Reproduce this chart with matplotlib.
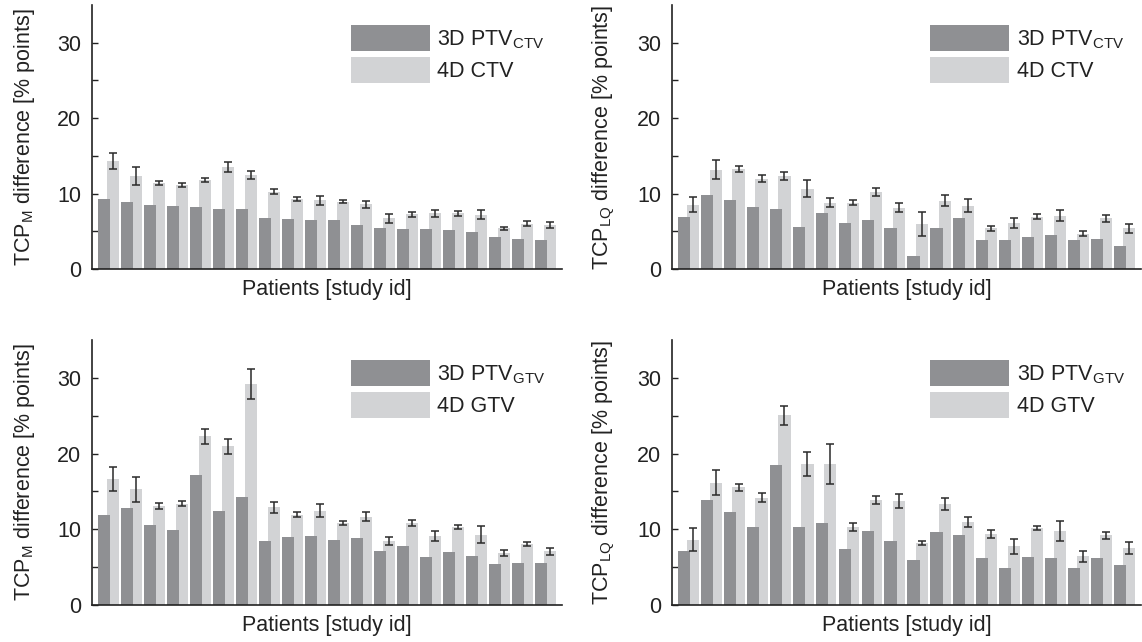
import matplotlib
matplotlib.use("Agg")
import matplotlib.pyplot as plt
import numpy as np

plt.rcParams['font.family'] = ['Liberation Sans', 'DejaVu Sans']
plt.rcParams['mathtext.default'] = 'regular'

patients = np.arange(20)

# Top-left: TCP_M, CTV
tl_3d = [9.34, 8.9, 8.46, 8.33, 8.19, 7.93, 7.89, 6.74, 6.61, 6.56,
         6.48, 5.81, 5.42, 5.33, 5.24, 5.15, 4.85, 4.23, 4.0, 3.79]
tl_4d = [14.3, 12.3, 11.37, 11.15, 11.8, 13.5, 12.47, 10.26, 9.25, 9.12,
         8.94, 8.59, 6.7, 7.27, 7.36, 7.4, 7.18, 5.37, 5.99, 5.81]
tl_err = [1.03, 1.2, 0.26, 0.26, 0.3, 0.66, 0.57, 0.3, 0.29, 0.62,
          0.22, 0.44, 0.57, 0.31, 0.42, 0.31, 0.6, 0.2, 0.31, 0.4]

# Top-right: TCP_LQ, CTV
tr_3d = [6.92, 9.87, 9.16, 8.28, 8.02, 5.55, 7.49, 6.08, 6.52, 5.42,
         1.67, 5.42, 6.74, 3.83, 3.88, 4.27, 4.45, 3.83, 4.0, 3.04]
tr_4d = [8.55, 13.17, 13.26, 11.94, 12.33, 10.66, 8.81, 8.77, 10.26, 8.15,
         5.99, 9.03, 8.41, 5.37, 6.12, 6.96, 7.09, 4.67, 6.7, 5.42]
tr_err = [1.0, 1.23, 0.42, 0.46, 0.48, 1.1, 0.57, 0.35, 0.53, 0.55,
          1.6, 0.73, 0.88, 0.35, 0.7, 0.31, 0.77, 0.31, 0.5, 0.6]

# Bottom-left: TCP_M, GTV
bl_3d = [11.86, 12.78, 10.58, 9.84, 17.13, 12.43, 14.27, 8.48, 8.96, 9.13,
         8.56, 8.87, 7.16, 7.82, 6.32, 6.94, 6.46, 5.36, 5.58, 5.53]
bl_4d = [16.6, 15.28, 13.09, 13.39, 22.27, 20.95, 29.16, 12.91, 11.95, 12.47,
         10.85, 11.68, 8.43, 10.85, 9.09, 10.28, 9.31, 6.81, 8.04, 7.07]
bl_err = [1.58, 1.69, 0.37, 0.37, 0.97, 1.0, 1.98, 0.75, 0.37, 0.81,
          0.24, 0.61, 0.53, 0.42, 0.68, 0.24, 1.16, 0.4, 0.31, 0.42]

# Bottom-right: TCP_LQ, GTV
br_3d = [7.16, 13.83, 12.34, 10.32, 18.53, 10.36, 10.8, 7.38, 9.79, 8.39,
         5.97, 9.62, 9.27, 6.19, 4.87, 6.37, 6.15, 4.92, 6.19, 5.27]
br_4d = [8.65, 16.16, 15.55, 14.19, 25.03, 18.66, 18.62, 10.28, 13.83, 13.75,
         8.17, 13.35, 10.94, 9.4, 7.73, 10.19, 9.79, 6.41, 9.18, 7.47]
br_err = [1.5, 1.62, 0.44, 0.55, 1.27, 1.56, 2.6, 0.57, 0.55, 0.97,
          0.24, 0.81, 0.64, 0.5, 1.05, 0.31, 1.32, 0.77, 0.44, 0.79]

panels = [
    (tl_3d, tl_4d, tl_err, 'TCP$_{M}$ difference [% points]', '3D PTV$_{CTV}$', '4D CTV'),
    (tr_3d, tr_4d, tr_err, 'TCP$_{LQ}$ difference [% points]', '3D PTV$_{CTV}$', '4D CTV'),
    (bl_3d, bl_4d, bl_err, 'TCP$_{M}$ difference [% points]', '3D PTV$_{GTV}$', '4D GTV'),
    (br_3d, br_4d, br_err, 'TCP$_{LQ}$ difference [% points]', '3D PTV$_{GTV}$', '4D GTV'),
]

positions = [
    [92/1142, 1-269/642, 470/1142, 264/642],
    [672/1142, 1-269/642, 469/1142, 264/642],
    [92/1142, 1-605/642, 470/1142, 265/642],
    [672/1142, 1-605/642, 469/1142, 265/642],
]

dark = '#8f9093'
light = '#d2d3d5'
fs = 15.5

fig = plt.figure(figsize=(11.42, 6.42), dpi=100)
for (v3, v4, err, ylab, lab3, lab4), pos in zip(panels, positions):
    ax = fig.add_axes(pos)
    w = 0.53
    off = 0.38
    ax.bar(patients + off, v4, width=w, color=light, zorder=1, label=lab4)
    ax.bar(patients, v3, width=w, color=dark, zorder=2, label=lab3)
    ax.errorbar(patients + off, v4, yerr=err, fmt='none', ecolor='#2a2a2a',
                elinewidth=1.1, capsize=3, capthick=1.1, zorder=3)
    ax.set_xlim(-0.52, 19.91)
    ax.set_ylim(0, 35)
    ax.set_yticks([0, 10, 20, 30])
    ax.set_yticks([5, 15, 25], minor=True)
    ax.set_xticks([])
    ax.tick_params(axis='y', which='both', direction='in', length=4, width=1,
                   labelsize=fs, pad=8, colors='#222222')
    for s in ['top', 'right']:
        ax.spines[s].set_visible(False)
    for s in ['left', 'bottom']:
        ax.spines[s].set_linewidth(1.2)
        ax.spines[s].set_color('#222222')
    ax.set_ylabel(ylab, fontsize=fs, labelpad=14, color='#222222')
    ax.set_xlabel('Patients [study id]', fontsize=fs, labelpad=7, color='#222222')
    handles, labels = ax.get_legend_handles_labels()
    leg = ax.legend(handles[::-1], labels[::-1], loc='upper left',
                    bbox_to_anchor=(0.551, 0.925), frameon=False, fontsize=fs,
                    handlelength=3.67, handleheight=1.5, labelspacing=0.28,
                    handletextpad=0.33, borderaxespad=0, borderpad=0)
    for t in leg.get_texts():
        t.set_color('#222222')

fig.savefig('out.png', dpi=100)
